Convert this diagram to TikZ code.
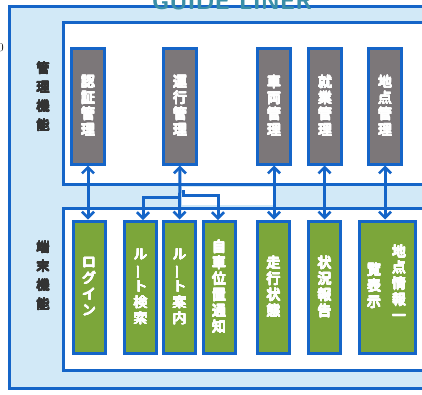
\documentclass[tikz,border=0pt]{standalone}
\usepackage{fontspec}
\usepackage{graphicx}
\usepackage[copies]{contour}
\contourlength{0.45pt}
\contournumber{16}
\newfontfamily\jp{Noto Sans CJK JP}
\usetikzlibrary{arrows.meta}
\definecolor{bl}{HTML}{1565C8}
\definecolor{lbl}{HTML}{D2E9F7}
\definecolor{gr}{HTML}{7C7779}
\definecolor{gn}{HTML}{7CA63A}
\definecolor{tl}{HTML}{3A8FA8}
\definecolor{dk}{HTML}{333333}
\newcommand{\vbar}{\rotatebox[origin=c]{90}{ー}}
\newcommand{\B}[1]{\contour{white}{#1}}
\newcommand{\K}[1]{\contour{dk}{#1}}
\tikzset{
  barb/.tip={Straight Barb[length=6pt,width=12pt,line width=2.6pt]},
  frame/.style={draw=bl, line width=3pt},
  jtext/.style={text=white, align=center, font=\jp\fontsize{14}{16}\selectfont},
  mgr/.style={jtext, draw=bl, line width=3pt, fill=gr, minimum width=33pt, minimum height=116pt, inner sep=0pt},
  term/.style={jtext, draw=bl, line width=3pt, fill=gn, minimum width=32pt, minimum height=132pt, inner sep=0pt},
  side/.style={text=dk, align=center, font=\jp\fontsize{13}{19}\selectfont},
  conn/.style={draw=bl, line width=3pt},
  both/.style={barb-barb},
  down/.style={-barb},
}
\begin{document}
\begin{tikzpicture}[x=1pt,y=-1pt]
\useasboundingbox (0,0) rectangle (422,394);
\clip (0,0) rectangle (422,394);
% outer frame
\fill[white] (0,0) rectangle (422,394);
\draw[frame, fill=lbl] (9,6) rectangle (440,388);
\node[text=tl, font=\sffamily\bfseries\fontsize{24}{24}\selectfont, anchor=base] (title) at (232,9) {GUIDE LINER};
\node[font=\fontsize{12}{12}\selectfont, anchor=east, inner sep=0pt] (zero) at (4,48) {0};
% inner frames
\draw[frame, fill=white] (63,22) rectangle (440,184);
\draw[frame, fill=white] (63,208) rectangle (440,370);
\fill[white] (182,187) rectangle (273,205);
% side labels
\node[side] (lab1) at (43,97) {\K{管}\\\K{理}\\\K{機}\\\K{能}};
\node[side] (lab2) at (43,276) {\K{端}\\\K{末}\\\K{機}\\\K{能}};
% management boxes
\node[mgr] (m1) at (88,106) {\B{認}\\\B{証}\\\B{管}\\\B{理}};
\node[mgr] (m2) at (180,106) {\B{運}\\\B{行}\\\B{管}\\\B{理}};
\node[mgr] (m3) at (274,106) {\B{車}\\\B{両}\\\B{管}\\\B{理}};
\node[mgr] (m4) at (325,106) {\B{就}\\\B{業}\\\B{管}\\\B{理}};
\node[mgr] (m5) at (385,106) {\B{地}\\\B{点}\\\B{管}\\\B{理}};
% terminal boxes
\node[term] (t1) at (89,287) {\B{ロ}\\\B{グ}\\\B{イ}\\\B{ン}};
\node[term] (t2) at (140.5,287) {\B{ル}\\\B{\vbar}\\\B{ト}\\\B{検}\\\B{索}};
\node[term] (t3) at (179.5,287) {\B{ル}\\\B{\vbar}\\\B{ト}\\\B{案}\\\B{内}};
\node[term] (t4) at (219,287) {\B{自}\\\B{車}\\\B{位}\\\B{置}\\\B{通}\\\B{知}};
\node[term] (t5) at (273.5,287) {\B{走}\\\B{行}\\\B{状}\\\B{態}};
\node[term] (t6) at (324.5,287) {\B{状}\\\B{況}\\\B{報}\\\B{告}};
\node[term, minimum width=56pt] (t7) at (387,287) {};
\node[jtext] (t7a) at (399,283) {\B{地}\\\B{点}\\\B{情}\\\B{報}\\\B{一}};
\node[jtext] (t7b) at (374,286) {\B{覧}\\\B{表}\\\B{示}};
% connectors
\draw[conn, both] (m1.south) -- (t1.north -| m1.south);
\draw[conn, both] (m2.south) -- (t3.north);
\draw[conn, both] (m3.south) -- (t5.north -| m3.south);
\draw[conn, both] (m4.south -| t6.north) -- (t6.north);
\draw[conn, both] (m5.south) -- (t7.north -| m5.south);
\coordinate (b1) at (180,197);
\coordinate (b2) at (183,190);
\draw[conn, down] (b1) -- (143,197) -- (143,220);
\draw[conn, down] (b2) -- (183,195) -- (218,195) -- (218,220);
\end{tikzpicture}
\end{document}
